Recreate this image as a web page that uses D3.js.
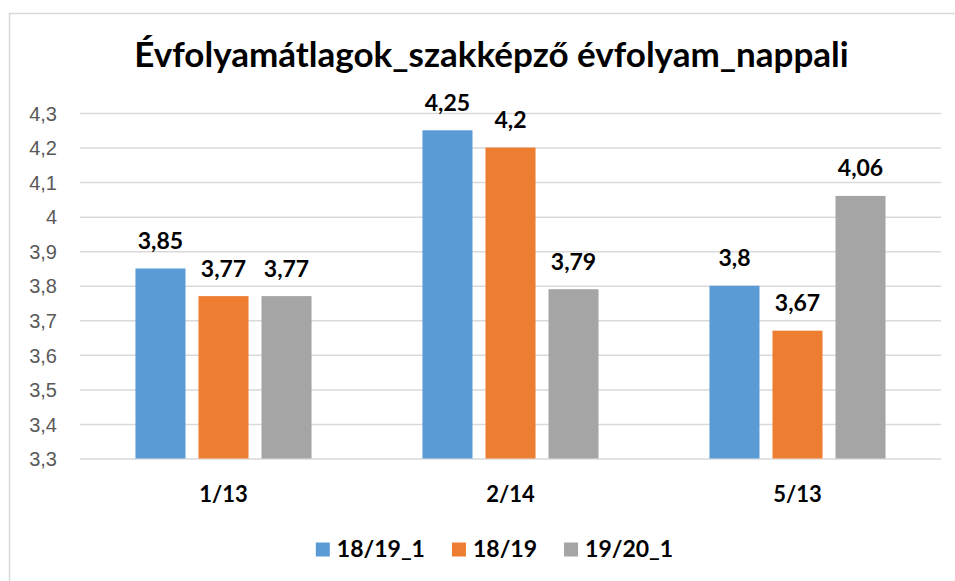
<!DOCTYPE html>
<html>
<head>
<meta charset="utf-8">
<script src="https://cdn.jsdelivr.net/npm/d3@7"></script>
<style>
  body { margin: 0; background: #fff; }
  svg { display: block; font-family: Lato, "Open Sans", sans-serif; }
</style>
</head>
<body>
<div class="chart"></div>
<script>
const title = 'Évfolyamátlagok_szakképző évfolyam_nappali';
const categories = ['1/13', '2/14', '5/13'];
const series = ['18/19_1', '18/19', '19/20_1'];
const colors = ['#5B9BD5', '#ED7D31', '#A5A5A5'];
// values per series, in category order
const s1819_1 = [3.85, 4.25, 3.8];
const s1819 = [3.77, 4.2, 3.67];
const s1920_1 = [3.77, 3.79, 4.06];
const yTicks = [3.3, 3.4, 3.5, 3.6, 3.7, 3.8, 3.9, 4.0, 4.1, 4.2, 4.3];

const values = [s1819_1, s1819, s1920_1];

const w = 955;
const h = 581;
const plotLeft = 80, plotRight = 941, plotTop = 113, plotBottom = 458.5;

const huLocale = d3.formatLocale({ decimal: ',', thousands: ' ', grouping: [3], currency: ['', ' Ft'] });
const fmt = huLocale.format('~g');

const svg = d3.select('.chart')
    .append('svg')
    .attr('width', w)
    .attr('height', h);

// chart area border (runs off the right / bottom of the picture)
svg.append('rect')
    .attr('x', 9.5)
    .attr('y', 13.5)
    .attr('width', 1000)
    .attr('height', 1000)
    .attr('fill', 'none')
    .attr('stroke', '#D9D9D9')
    .attr('stroke-width', 1.5);

const x0 = d3.scaleBand()
    .domain(categories)
    .range([plotLeft, plotRight]);

const x1 = d3.scaleBand()
    .domain(series)
    .range([0, x0.bandwidth()])
    .paddingInner(0.206)
    .paddingOuter(0.88);

const y = d3.scaleLinear()
    .domain([3.3, 4.3])
    .range([plotBottom, plotTop]);

const yAxis = d3.axisLeft(y)
    .tickValues(yTicks)
    .tickSize(-(plotRight - plotLeft))
    .tickPadding(23)
    .tickFormat(fmt);

const gy = svg.append('g')
    .attr('transform', 'translate(' + plotLeft + ',0)')
    .call(yAxis);
gy.select('.domain').remove();
gy.selectAll('.tick line')
    .attr('stroke', '#D9D9D9')
    .attr('stroke-width', 1.5);
gy.selectAll('.tick text')
    .attr('fill', '#595959')
    .style('font-size', '20px')
    .attr('dy', '0.36em');

svg.append('text')
    .attr('x', 491.5)
    .attr('y', 67)
    .attr('text-anchor', 'middle')
    .style('font-size', '35px')
    .style('font-weight', 'bold')
    .attr('fill', '#000')
    .text(title);

const groups = svg.selectAll('.group')
    .data(categories)
    .enter()
    .append('g')
    .attr('class', 'group')
    .attr('transform', (d) => 'translate(' + x0(d) + ',0)');

groups.selectAll('rect')
    .data((d, i) => series.map((s, j) => ({ s: s, j: j, v: values[j][i] })))
    .enter()
    .append('rect')
    .attr('x', (d) => x1(d.s))
    .attr('y', (d) => y(d.v))
    .attr('width', x1.bandwidth())
    .attr('height', (d) => y(3.3) - y(d.v))
    .attr('fill', (d) => colors[d.j]);

groups.selectAll('.val')
    .data((d, i) => series.map((s, j) => ({ s: s, j: j, v: values[j][i] })))
    .enter()
    .append('text')
    .attr('class', 'val')
    .attr('x', (d) => x1(d.s) + x1.bandwidth() / 2)
    .attr('y', (d) => y(d.v) - 19.5)
    .attr('text-anchor', 'middle')
    .style('font-size', '23px')
    .style('font-weight', 'bold')
    .text((d) => fmt(d.v));

// category labels
svg.selectAll('.cat')
    .data(categories)
    .enter()
    .append('text')
    .attr('class', 'cat')
    .attr('x', (d) => x0(d) + x0.bandwidth() / 2)
    .attr('y', 502)
    .attr('text-anchor', 'middle')
    .style('font-size', '22px')
    .style('font-weight', 'bold')
    .text((d) => d);

// legend
const legend = svg.append('g');
const items = legend.selectAll('g')
    .data(series)
    .enter()
    .append('g');
items.append('rect')
    .attr('width', 14)
    .attr('height', 14)
    .attr('y', 542.5)
    .attr('fill', (d, i) => colors[i]);
items.append('text')
    .attr('x', 21)
    .attr('y', 557)
    .style('font-size', '23px')
    .style('font-weight', 'bold')
    .text((d) => d);

let pos = 0;
items.each(function () {
    const tw = d3.select(this).select('text').node().getComputedTextLength();
    d3.select(this).attr('transform', 'translate(' + pos + ',0)');
    pos += 21 + tw + 27;
});
const total = pos - 27;
legend.attr('transform', 'translate(' + (494.5 - total / 2) + ',0)');
</script>
</body>
</html>
